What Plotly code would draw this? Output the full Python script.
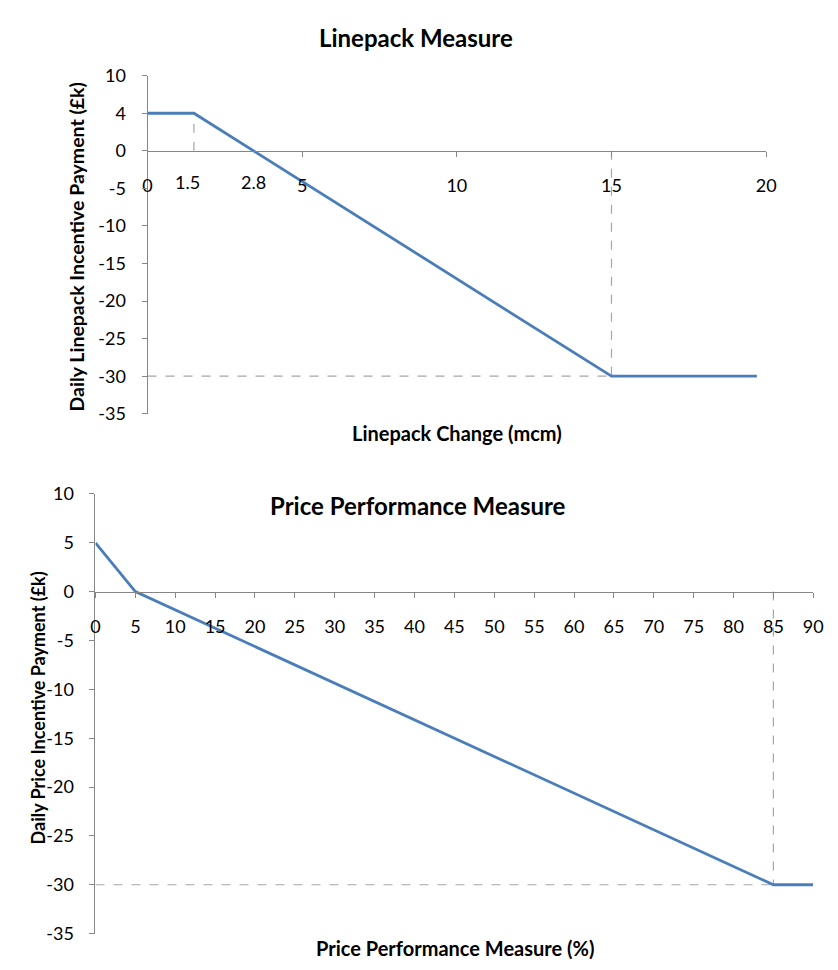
import plotly.graph_objects as go

# ---- data ----
lp_x = [0, 1.5, 15, 19.7]
lp_y = [5, 5, -30, -30]
lp_xticks = [0, 5, 10, 15, 20]
lp_yticks = [10, 5, 0, -5, -10, -15, -20, -25, -30, -35]
lp_yticktext = ["10", "4", "0", "-5", "-10", "-15", "-20", "-25", "-30", "-35"]
lp_marks = ["1.5", "2.8"]

pp_x = [0, 5, 85, 90]
pp_y = [5, 0, -30, -30]
pp_xticks = list(range(0, 95, 5))
pp_yticks = [10, 5, 0, -5, -10, -15, -20, -25, -30, -35]
pp_yticktext = ["10", "5", "0", "-5", "-10", "-15", "-20", "-25", "-30", "-35"]
pp_dash_end = 88.6

OFF = 8  # default page body margin
W, H = 838 - OFF, 970 - OFF
BLUE = "#4A7EBB"
GRID = "#A6A6A6"
AXC = "#868686"
FONT = "Lato"

def px_x(p):
    return (p - OFF) / W

def px_y(p):
    return 1 - (p - OFF) / H

# plot areas in (window) pixels
top_l, top_r, top_t, top_b = 145, 775, 65, 411
bot_l, bot_r, bot_t, bot_b = 92, 823, 493, 943

def zero_pos(t, b, lo, hi):
    yb, yt = px_y(b), px_y(t)
    return yb + (0 - lo) / (hi - lo) * (yt - yb)

fig = go.Figure()

dash = dict(color=GRID, width=1.2, dash="dash")
# top guides
fig.add_trace(go.Scatter(x=[lp_x[1], lp_x[1]], y=[0, lp_y[1]], mode="lines", line=dash, xaxis="x", yaxis="y", hoverinfo="skip"))
fig.add_trace(go.Scatter(x=[lp_x[2], lp_x[2]], y=[0, lp_y[2]], mode="lines", line=dash, xaxis="x", yaxis="y", hoverinfo="skip"))
fig.add_trace(go.Scatter(x=[0, lp_x[2]], y=[lp_y[2], lp_y[2]], mode="lines", line=dash, xaxis="x", yaxis="y", hoverinfo="skip"))
fig.add_trace(go.Scatter(x=lp_x, y=lp_y, mode="lines", line=dict(color=BLUE, width=2.8), xaxis="x", yaxis="y"))

# bottom guides
fig.add_trace(go.Scatter(x=[pp_x[2], pp_x[2]], y=[0, pp_y[2]], mode="lines", line=dash, xaxis="x2", yaxis="y2", hoverinfo="skip"))
fig.add_trace(go.Scatter(x=[0, pp_dash_end], y=[pp_y[2], pp_y[2]], mode="lines", line=dash, xaxis="x2", yaxis="y2", hoverinfo="skip"))
fig.add_trace(go.Scatter(x=pp_x, y=pp_y, mode="lines", line=dict(color=BLUE, width=2.8), xaxis="x2", yaxis="y2", cliponaxis=False))

tickfont = dict(family=FONT, size=18, color="#000000")
common_x = dict(showline=True, linecolor=AXC, linewidth=1, ticks="outside", ticklen=5,
                tickcolor=AXC, showgrid=False, zeroline=False, tickfont=tickfont,
                anchor="free", ticklabelstandoff=14, fixedrange=True)
common_y = dict(showline=True, linecolor=AXC, linewidth=1, ticks="outside", ticklen=5,
                tickcolor=AXC, showgrid=False, zeroline=False, tickfont=tickfont,
                ticklabelstandoff=12, fixedrange=True)

fig.update_layout(
    width=W, height=H, margin=dict(l=0, r=0, t=0, b=0),
    paper_bgcolor="white", plot_bgcolor="white", showlegend=False,
    xaxis=dict(domain=[px_x(top_l), px_x(top_r)], range=[0, 20], tickvals=lp_xticks,
               position=zero_pos(top_t, top_b, -35, 10), **common_x),
    yaxis=dict(domain=[px_y(top_b), px_y(top_t)], range=[-35, 10], tickvals=lp_yticks,
               ticktext=lp_yticktext, anchor="x", **common_y),
    xaxis2=dict(domain=[px_x(bot_l), px_x(bot_r)], range=[0, 90], tickvals=pp_xticks,
                position=zero_pos(bot_t, bot_b, -35, 10), **common_x),
    yaxis2=dict(domain=[px_y(bot_b), px_y(bot_t)], range=[-35, 10], tickvals=pp_yticks,
                ticktext=pp_yticktext, anchor="x2", **common_y),
)

title_font = dict(family=FONT, size=24, color="#000000")
axt_font = dict(family=FONT, size=20, color="#000000")
yt1_font = dict(family=FONT, size=19.5, color="#000000")
yt2_font = dict(family=FONT, size=18, color="#000000")

def pann(text, x, y, font, angle=0):
    return dict(text=text, x=px_x(x), y=px_y(y), xref="paper", yref="paper",
                showarrow=False, font=font, textangle=angle,
                xanchor="center", yanchor="middle")

ann = [
    pann("<b>Linepack Measure</b>", 418, 26, title_font),
    pann("<b>Price Performance Measure</b>", 420, 505, title_font),
    pann("<b>Linepack Change (mcm)</b>", 460, 431, axt_font),
    pann("<b>Price Performance Measure (%)</b>", 458, 958, axt_font),
    pann("<b>Daily Linepack Incentive Payment (£k)</b>", 73, 240, yt1_font, -90),
    pann("<b>Daily Price Incentive Payment (£k)</b>", 33, 712, yt2_font, -90),
]
# marker labels on top x axis
ann.append(dict(text=lp_marks[0], x=1.5, y=0, xref="x", yref="y", xshift=-6, yshift=-31,
                showarrow=False, font=tickfont, xanchor="center", yanchor="middle"))
ann.append(dict(text=lp_marks[1], x=2.8, y=0, xref="x", yref="y", xshift=19, yshift=-31,
                showarrow=False, font=tickfont, xanchor="center", yanchor="middle"))
fig.update_layout(annotations=ann)

fig.write_html("out.html")
